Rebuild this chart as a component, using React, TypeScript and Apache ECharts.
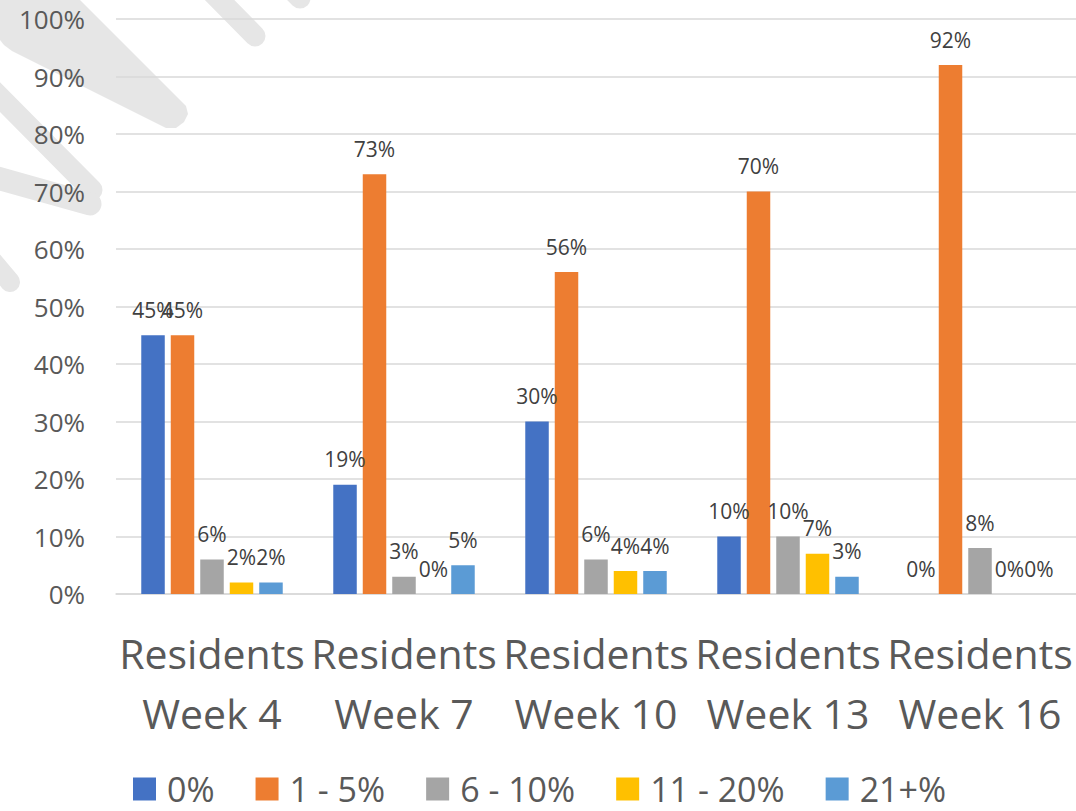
import React, { useEffect, useRef } from "react";
import * as echarts from "echarts";

const categories = [
  "Residents\nWeek 4",
  "Residents\nWeek 7",
  "Residents\nWeek 10",
  "Residents\nWeek 13",
  "Residents\nWeek 16",
];
const seriesNames = ["0%", "1 - 5%", "6 - 10%", "11 - 20%", "21+%"];
const zeroPct = [45, 19, 30, 10, 0];
const oneToFive = [45, 73, 56, 70, 92];
const sixToTen = [6, 3, 6, 10, 8];
const elevenToTwenty = [2, 0, 4, 7, 0];
const twentyOnePlus = [2, 5, 4, 3, 0];
const yTicks = { min: 0, max: 100, interval: 10 };

const colors = ["#4472C4", "#ED7D31", "#A5A5A5", "#FFC000", "#5B9BD5"];
const FONT = "'Open Sans', 'Noto Sans', sans-serif";

export default function App() {
  const ref = useRef<HTMLDivElement>(null);
  useEffect(() => {
    document.body.style.margin = "0";
    const chart = echarts.init(ref.current!, null, { renderer: "svg" });
    const values = [zeroPct, oneToFive, sixToTen, elevenToTwenty, twentyOnePlus];
    const stripe = "#e6e6e6";
    const line = (x1: number, y1: number, x2: number, y2: number, w: number) => ({
      type: "line",
      z: -10,
      silent: true,
      shape: { x1, y1, x2, y2 },
      style: { stroke: stripe, lineWidth: w, lineCap: "round" },
    });
    chart.setOption({
      animation: false,
      textStyle: { fontFamily: FONT },
      graphic: [
        {
          type: "polygon",
          z: -10,
          silent: true,
          shape: {
            points: [
              [0, 0],
              [80, 0],
              [186, 106],
              [188, 114],
              [184, 122],
              [176, 128],
              [166, 128],
              [12, 51],
              [4, 45],
              [0, 40],
            ],
          },
          style: { fill: stripe },
        },
        line(-15, 82, 92, 190, 21),
        line(-10, 176, 90, 204, 23),
        line(-10, 258, 10, 282, 20),
        line(195, -25, 255, 36, 21),
        line(270, -32, 300, -2, 21),
      ],
      grid: { left: 116, right: 0, top: 19, bottom: 217, containLabel: false },
      legend: {
        data: seriesNames,
        bottom: 5,
        left: 133,
        padding: 0,
        icon: "rect",
        itemWidth: 23,
        itemHeight: 23,
        itemGap: 41,
        textStyle: {
          fontSize: 34,
          lineHeight: 28,
          color: "#595959",
          fontFamily: FONT,
          padding: [0, 0, 0, 6],
        },
      },
      xAxis: {
        type: "category",
        data: categories,
        axisTick: { show: false },
        axisLine: { lineStyle: { color: "#d9d9d9", width: 1.5 } },
        axisLabel: {
          interval: 0,
          fontSize: 41,
          lineHeight: 60,
          margin: 29,
          color: "#595959",
          fontFamily: FONT,
        },
      },
      yAxis: {
        type: "value",
        min: yTicks.min,
        max: yTicks.max,
        interval: yTicks.interval,
        axisLine: { show: false },
        axisTick: { show: false },
        splitLine: { lineStyle: { color: "#d9d9d9", width: 1.5 } },
        axisLabel: {
          formatter: "{value}%",
          fontSize: 26,
          margin: 31,
          color: "#595959",
          fontFamily: FONT,
        },
      },
      series: seriesNames.map((name, i) => ({
        name,
        type: "bar",
        data: values[i],
        barWidth: 23.5,
        barGap: "25.5%",
        itemStyle: { color: colors[i] },
        label: {
          show: true,
          position: "top",
          distance: 15,
          formatter: "{c}%",
          fontSize: 21,
          color: "#404040",
          fontFamily: FONT,
        },
      })),
    });
    return () => chart.dispose();
  }, []);
  return <div ref={ref} style={{ width: 1076, height: 811 }} />;
}
